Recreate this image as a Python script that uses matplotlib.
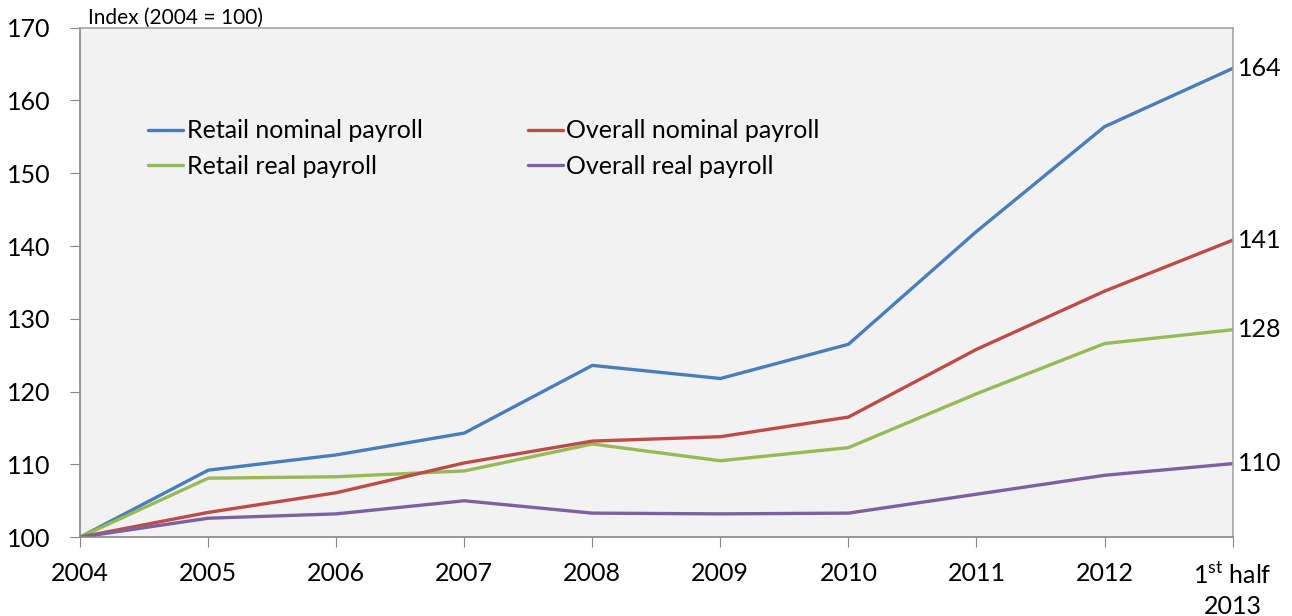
import matplotlib.pyplot as plt

plt.rcParams['font.family'] = ['Lato', 'DejaVu Sans']
plt.rcParams['mathtext.fontset'] = 'custom'
plt.rcParams['mathtext.rm'] = 'Lato'

periods = ['2004', '2005', '2006', '2007', '2008', '2009', '2010', '2011', '2012',
           r'1$^{\mathrm{st}}$ half' + '\n2013']
retail_nominal = [100, 109.2, 111.3, 114.3, 123.6, 121.8, 126.5, 142.0, 156.4, 164.4]
overall_nominal = [100, 103.4, 106.1, 110.2, 113.2, 113.8, 116.5, 125.8, 133.8, 140.8]
retail_real = [100, 108.1, 108.3, 109.1, 112.8, 110.5, 112.3, 119.7, 126.6, 128.5]
overall_real = [100, 102.6, 103.2, 105.0, 103.3, 103.2, 103.3, 105.9, 108.5, 110.1]
end_labels = ['164', '141', '128', '110']

fig = plt.figure(figsize=(12.92, 6.16), dpi=100)
ax = fig.add_axes([0.062, 0.128, 0.892, 0.827])
ax.set_facecolor('#f2f2f2')

x = range(len(periods))
series = [
    (retail_nominal, '#4a7ebb', 'Retail nominal payroll'),
    (retail_real, '#98b954', 'Retail real payroll'),
    (overall_nominal, '#be4b48', 'Overall nominal payroll'),
    (overall_real, '#7d60a0', 'Overall real payroll'),
]
for vals, col, lab in series:
    ax.plot(x, vals, color=col, lw=2.4, label=lab, solid_capstyle='round')

for vals, lab in zip([retail_nominal, overall_nominal, retail_real, overall_real], end_labels):
    ax.annotate(lab, (x[-1], vals[-1]), xytext=(4, 0), textcoords='offset points',
                va='center', ha='left', fontsize=18, color='black', annotation_clip=False)

ax.set_xlim(0, len(periods) - 1)
ax.set_ylim(100, 170)
ax.set_yticks(range(100, 171, 10))
ax.set_xticks(list(x))
ax.set_xticklabels(periods)
ax.tick_params(axis='both', direction='out', length=7, color='#868686', labelsize=18)
ax.tick_params(axis='x', pad=11)
ax.tick_params(axis='y', pad=14)
ax.get_xticklabels()[-1].set_linespacing(1.35)
for s in ax.spines.values():
    s.set_color('#a6a6a6')
    s.set_linewidth(1.2)
ax.spines['left'].set_color('#868686')
ax.spines['bottom'].set_color('#868686')

ax.text(0.007, 1.0, 'Index (2004 = 100)', transform=ax.transAxes, fontsize=15,
        va='bottom', ha='left')

ax.legend(ncol=2, frameon=False, loc='upper left', bbox_to_anchor=(0.059, 0.82),
          fontsize=18, handlelength=1.4, handletextpad=0.15, columnspacing=4.2,
          labelspacing=0.5, borderpad=0, borderaxespad=0)

fig.savefig('out.png', dpi=100)
